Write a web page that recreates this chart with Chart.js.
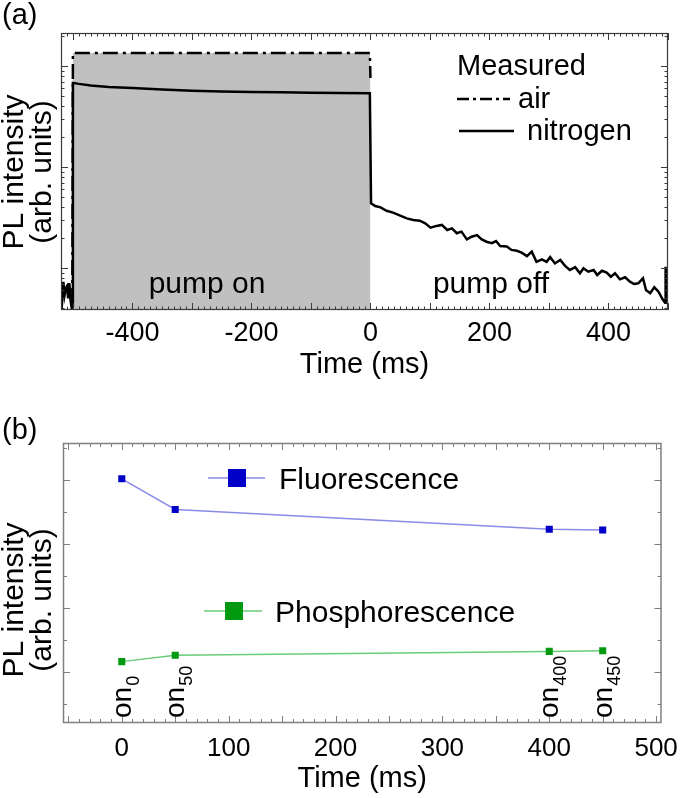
<!DOCTYPE html>
<html><head><meta charset="utf-8">
<script src="https://cdn.jsdelivr.net/npm/chart.js@4.4.0/dist/chart.umd.min.js"></script>
<style>
html,body{margin:0;padding:0;background:#fff;}
#wrap{position:relative;width:688px;height:798px;overflow:hidden;background:#fff;}
canvas{position:absolute;left:0;}
#ca{top:0;}
#cb{top:392px;}
</style></head><body>
<div id="wrap"><canvas id="ca" width="688" height="392"></canvas><canvas id="cb" width="688" height="406"></canvas></div>
<script>
// ---------- Panel (a) data ----------
const timeAir = [-501, -500, -250, -1, 0];
const airValues = [0.45, 134.5, 134.5, 134.5, 76];
const timeNitrogen = [-520,-518,-516,-514,-512,-510,-508,-506,-504,-502,-501,
  -500,-490,-470,-440,-400,-350,-300,-250,-200,-150,-100,-50,-1,
  1,8,17,27,38,50,61,72,83,92,
  101,111,120,129,137,145,153,162,170,179,
  187,195,204,211,218,229,237,246,254,263,
  271,279,288,296,302,310,319,327,335,344,
  352,358,366,375,381,389,397,404,411,419,
  428,436,443,450,458,463,470,477,484,491,
  495,496,498];
const nitrogenValues = [0.58,0.48,0.73,0.54,0.63,0.66,0.50,0.71,0.48,0.40,0.42,
  68,66.5,64,62,60.5,58.5,57,56,55.3,54.8,54.3,54,53.8,
  4.37,4.11,3.99,3.69,3.53,3.30,3.10,2.99,2.94,2.77,
  2.51,2.61,2.67,2.38,2.47,2.21,2.29,1.92,2.04,2.12,
  1.92,1.82,1.76,1.85,1.65,1.63,1.51,1.48,1.42,1.31,
  1.45,1.15,1.22,1.15,1.28,1.11,1.20,1.05,0.955,1.02,
  0.886,0.993,0.919,0.955,0.852,0.940,0.899,0.820,0.886,0.773,
  0.809,0.732,0.694,0.705,0.791,0.606,0.562,0.644,0.583,0.490,
  0.453,1.03,0.447];
const xTicksA = [-400, -200, 0, 200, 400];

// ---------- Panel (b) data ----------
const timeB = [0, 50, 400, 450];
const fluorescence = [3.02, 2.54, 2.23, 2.22];
const phosphorescence = [0.16, 0.26, 0.32, 0.33];
const onLabels = ['0', '50', '400', '450'];
const xTicksB = [0, 100, 200, 300, 400, 500];

const FF = "'Liberation Sans', Arial, Helvetica, sans-serif";
Chart.defaults.font.family = FF;
Chart.defaults.color = '#000';
Chart.defaults.animation = false;

const pts = (xs, ys) => xs.map((x, i) => ({x: x, y: ys[i]}));

// inward tick marks and frame, positioned through the chart's scales
const framePlugin = {
  id: 'frame',
  afterDraw(chart, args, o) {
    const {ctx, chartArea: a} = chart;
    const xs = chart.scales.x, ys = chart.scales.y;
    ctx.save();
    ctx.strokeStyle = o.color; ctx.lineWidth = 1;
    ctx.beginPath();
    const n0 = Math.ceil(xs.min / o.xMinor), n1 = Math.floor(xs.max / o.xMinor);
    for (let n = n0; n <= n1; n++) {
      const v = n * o.xMinor;
      const major = Math.abs(Math.round(v / o.xMajor) * o.xMajor - v) < 1e-9;
      const L = major ? o.majorLen : o.minorLen;
      const p = Math.round(xs.getPixelForValue(v)) + 0.5;
      ctx.moveTo(p, a.bottom); ctx.lineTo(p, a.bottom - L);
      ctx.moveTo(p, a.top); ctx.lineTo(p, a.top + L);
    }
    const yt = [];
    if (o.yLog) {
      for (let d = Math.floor(Math.log10(ys.min)); d <= Math.ceil(Math.log10(ys.max)); d++)
        for (let m = 1; m <= 9; m++) {
          const v = m * Math.pow(10, d);
          if (v >= ys.min && v <= ys.max) yt.push([v, m === 1]);
        }
    } else {
      const m0 = Math.ceil(ys.min / o.yMinor), m1 = Math.floor(ys.max / o.yMinor);
      for (let n = m0; n <= m1; n++) {
        const v = n * o.yMinor;
        yt.push([v, Math.abs(Math.round(v / o.yMajor) * o.yMajor - v) < 1e-9]);
      }
    }
    for (const [v, major] of yt) {
      const L = major ? o.majorLen : o.minorLen;
      const p = Math.round(ys.getPixelForValue(v)) + 0.5;
      ctx.moveTo(a.left, p); ctx.lineTo(a.left + L, p);
      ctx.moveTo(a.right, p); ctx.lineTo(a.right - L, p);
    }
    ctx.stroke();
    ctx.lineWidth = o.frameWidth;
    ctx.strokeRect(a.left + 0.5, a.top + 0.5, a.right - a.left - 1, a.bottom - a.top - 1);
    ctx.restore();
  }
};

function rotText(ctx, lines, cy, baselines, font) {
  ctx.save();
  ctx.font = font; ctx.textAlign = 'center'; ctx.textBaseline = 'alphabetic'; ctx.fillStyle = '#000';
  lines.forEach((t, i) => {
    ctx.save(); ctx.translate(baselines[i], cy); ctx.rotate(-Math.PI / 2);
    ctx.fillText(t, 0, 0); ctx.restore();
  });
  ctx.restore();
}

const decorA = {
  id: 'decorA',
  afterDraw(chart) {
    const ctx = chart.ctx;
    ctx.save();
    ctx.fillStyle = '#000'; ctx.textBaseline = 'alphabetic'; ctx.textAlign = 'left';
    ctx.font = '29px ' + FF;
    ctx.fillText('(a)', 2, 24);
    rotText(ctx, ['PL intensity', '(arb. units)'], 172, [23, 51], '30px ' + FF);
    // legend
    ctx.font = '29px ' + FF;
    ctx.fillText('Measured', 457, 75);
    ctx.fillText('air', 518, 108);
    ctx.fillText('nitrogen', 527, 140);
    ctx.strokeStyle = '#000'; ctx.lineWidth = 2.5;
    ctx.setLineDash([12, 4, 3, 4]);
    ctx.beginPath(); ctx.moveTo(457, 99); ctx.lineTo(510, 99); ctx.stroke();
    ctx.setLineDash([]);
    ctx.beginPath(); ctx.moveTo(459, 131); ctx.lineTo(514, 131); ctx.stroke();
    // regions
    ctx.textAlign = 'center';
    ctx.font = '30px ' + FF;
    ctx.fillText('pump on', 207, 293);
    ctx.fillText('pump off', 491, 293);
    ctx.restore();
  }
};

const decorB = {
  id: 'decorB',
  afterDraw(chart) {
    const ctx = chart.ctx;
    const xs = chart.scales.x, a = chart.chartArea;
    ctx.save();
    ctx.fillStyle = '#000'; ctx.textBaseline = 'alphabetic'; ctx.textAlign = 'left';
    ctx.font = '29px ' + FF;
    ctx.fillText('(b)', 2, 47);
    rotText(ctx, ['PL intensity', '(arb. units)'], 208, [23, 51], '30px ' + FF);
    // legend
    const leg = [
      {t: 'Fluorescence', y: 86, x0: 208, x1: 265, m: 237, tx: 279, line: '#8a8ae8', mark: '#0000c8'},
      {t: 'Phosphorescence', y: 219, x0: 204, x1: 262, m: 234, tx: 275, line: '#6acc78', mark: '#00990f'}
    ];
    leg.forEach(l => {
      ctx.strokeStyle = l.line; ctx.lineWidth = 1.5;
      ctx.beginPath(); ctx.moveTo(l.x0, l.y); ctx.lineTo(l.x1, l.y); ctx.stroke();
      ctx.fillStyle = l.mark; ctx.fillRect(l.m - 9, l.y - 9, 18, 18);
      ctx.fillStyle = '#000'; ctx.font = '30px ' + FF;
      ctx.fillText(l.t, l.tx, l.y + 11);
    });
    // rotated point labels on0 ... on450
    const fs = 28, sfs = 18;
    onLabels.forEach((s, i) => {
      const px = xs.getPixelForValue(timeB[i]);
      ctx.save(); ctx.translate(px + 9, a.bottom - 5); ctx.rotate(-Math.PI / 2);
      ctx.fillStyle = '#000';
      ctx.font = fs + 'px ' + FF; ctx.fillText('on', 0, 0);
      const w = ctx.measureText('on').width;
      ctx.font = sfs + 'px ' + FF; ctx.fillText(s, w + 1, 8);
      ctx.restore();
    });
    ctx.restore();
  }
};

new Chart(document.getElementById('ca'), {
  type: 'line',
  data: {
    datasets: [
      {label: 'nitrogen', data: pts(timeNitrogen, nitrogenValues), borderColor: '#000', borderWidth: 2.5,
       pointRadius: 0, tension: 0, fill: false},
      {label: 'air', data: pts(timeAir, airValues), borderColor: '#000', borderWidth: 2.5, borderDash: [15, 5, 3, 5],
       pointRadius: 0, tension: 0, fill: 'start', backgroundColor: '#c0c0c0'}
    ]
  },
  options: {
    responsive: false, animation: false,
    layout: {padding: {left: 0, right: 20, top: 33, bottom: 0}},
    plugins: {
      legend: {display: false}, tooltip: {enabled: false},
      frame: {color: '#3a3a3a', frameWidth: 1.2, xMinor: 10, xMajor: 100, yLog: true, majorLen: 7, minorLen: 3.5}
    },
    scales: {
      x: {type: 'linear', min: -520, max: 500,
          afterBuildTicks: s => { s.ticks = xTicksA.map(v => ({value: v})); },
          afterFit: s => { s.height = 82; },
          grid: {display: false, drawTicks: false}, border: {display: false},
          ticks: {font: {size: 27}, color: '#000', padding: 7, maxRotation: 0},
          title: {display: true, text: 'Time (ms)', font: {size: 29}, color: '#000', padding: {top: 0, bottom: 10}}},
      y: {type: 'logarithmic', min: 0.384, max: 212,
          afterFit: s => { s.width = 61; },
          grid: {display: false, drawTicks: false}, border: {display: false},
          ticks: {display: false}}
    }
  },
  plugins: [framePlugin, decorA]
});

new Chart(document.getElementById('cb'), {
  type: 'line',
  data: {
    datasets: [
      {label: 'Fluorescence', data: pts(timeB, fluorescence), borderColor: '#8a8ae8', borderWidth: 1.5,
       pointStyle: 'rect', pointRadius: 5, pointBackgroundColor: '#0000c8', pointBorderColor: '#0000c8',
       pointBorderWidth: 0, tension: 0, fill: false},
      {label: 'Phosphorescence', data: pts(timeB, phosphorescence), borderColor: '#6acc78', borderWidth: 1.5,
       pointStyle: 'rect', pointRadius: 5, pointBackgroundColor: '#00990f', pointBorderColor: '#00990f',
       pointBorderWidth: 0, tension: 0, fill: false}
    ]
  },
  options: {
    responsive: false, animation: false,
    layout: {padding: {left: 0, right: 20, top: 51, bottom: 0}},
    plugins: {
      legend: {display: false}, tooltip: {enabled: false},
      frame: {color: '#808080', frameWidth: 1.5, xMinor: 10, xMajor: 50, yLog: false, yMinor: 0.5, yMajor: 1, majorLen: 7, minorLen: 4}
    },
    scales: {
      x: {type: 'linear', min: -55, max: 505,
          afterBuildTicks: s => { s.ticks = xTicksB.map(v => ({value: v})); },
          afterFit: s => { s.height = 75; },
          grid: {display: false, drawTicks: false}, border: {display: false},
          ticks: {font: {size: 26}, color: '#000', padding: 10, maxRotation: 0},
          title: {display: true, text: 'Time (ms)', font: {size: 29}, color: '#000', padding: {top: 0, bottom: 2}}},
      y: {type: 'linear', min: -0.8, max: 3.58,
          afterFit: s => { s.width = 63; },
          grid: {display: false, drawTicks: false}, border: {display: false},
          ticks: {display: false}}
    }
  },
  plugins: [framePlugin, decorB]
});
</script>
</body></html>
